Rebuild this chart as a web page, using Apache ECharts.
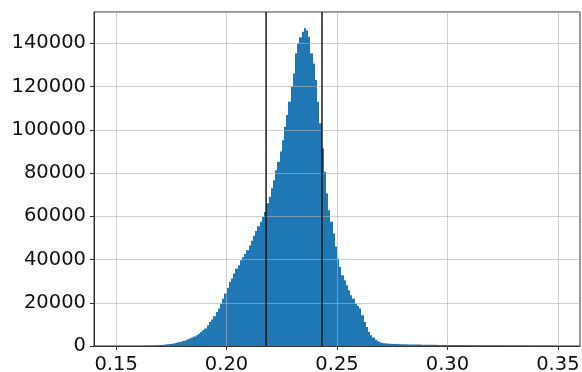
<!DOCTYPE html>
<html>
<head>
<meta charset="utf-8">
<script src="https://cdn.jsdelivr.net/npm/echarts@6/dist/echarts.min.js"></script>
<style>
  html, body { margin: 0; padding: 0; background: #fff; }
  #chart { width: 582px; height: 372px; }
</style>
</head>
<body>
<div id="chart"></div>
<script>
// histogram: 200 bins of width 0.001 starting at 0.150
var binStart = 0.150
var binWidth = 0.001
var counts = [
  0, 0, 0, 0, 0, 0, 0, 0, 0, 0,
  20, 40, 60, 90, 120, 160, 200, 250, 310, 380,
  460, 550, 650, 770, 900, 1050, 1250, 1450, 1700, 2000,
  2300, 2700, 3100, 3500, 3900, 4400, 5000, 5700, 6500, 7300,
  8100, 9600, 11100, 12300, 13800, 15700, 17300, 19600, 21900, 24300,
  27000, 29600, 31200, 33500, 35800, 37400, 39700, 41000, 42500, 44300,
  46500, 48700, 51000, 53200, 55400, 57500, 59700, 62000, 66000, 69000,
  73000, 76700, 81300, 85200, 90000, 95200, 101400, 106800, 113000, 120000,
  126000, 135400, 140000, 142800, 145400, 147000, 146000, 143000, 135400, 130700,
  123000, 113000, 103000, 91400, 80600, 70600, 62800, 57500, 52000, 46000,
  40500, 36600, 32700, 30400, 28100, 25800, 23500, 21900, 19600, 18500,
  17300, 14200, 11100, 8800, 6500, 5000, 3900, 2900, 2200, 1750,
  1450, 1250, 1150, 1050, 1000, 950, 920, 880, 850, 820,
  790, 760, 740, 720, 700, 690, 660, 650, 630, 610,
  590, 570, 560, 550, 530, 520, 510, 500, 490, 480,
  470, 460, 450, 440, 430, 420, 415, 410, 400, 395,
  390, 380, 375, 370, 360, 355, 350, 340, 335, 330,
  320, 310, 300, 295, 290, 280, 270, 265, 260, 250,
  240, 230, 220, 215, 210, 200, 195, 190, 180, 175,
  170, 160, 155, 150, 145, 140, 130, 125, 120, 110
]
var vLines = [0.2179, 0.2432]
var xTicks = [0.15, 0.20, 0.25, 0.30, 0.35]
var xMin = 0.14
var xMax = 0.36
var yMax = 154500

var bins = []
for (var i = 0; i < counts.length; i++) {
  var x0 = +(binStart + i * binWidth).toFixed(3)
  bins.push([x0, +(x0 + binWidth).toFixed(3), counts[i]])
}

var font = 'DejaVu Sans'
var gridColor = 'rgba(176,176,176,0.6)'
var chart = echarts.init(document.getElementById('chart'))
var option = {
  animation: false,
  backgroundColor: '#fff',
  grid: {
    left: 94, right: 2, top: 12, bottom: 26,
    outerBoundsMode: 'none',
    containLabel: false,
    show: true, borderColor: '#333', borderWidth: 1, backgroundColor: '#fff'
  },
  xAxis: {
    type: 'value',
    min: xMin,
    max: xMax,
    z: 3,
    axisLine: { show: true, onZero: false, lineStyle: { color: '#333', width: 1 } },
    axisTick: { show: true, length: 4, customValues: xTicks, lineStyle: { color: '#333' } },
    axisLabel: {
      customValues: xTicks,
      margin: 9,
      color: '#111',
      fontFamily: font,
      fontSize: 19.5,
      formatter: function (v) { return v.toFixed(2) }
    },
    splitLine: { show: true, lineStyle: { color: gridColor, width: 1 } }
  },
  yAxis: {
    type: 'value',
    min: 0,
    max: yMax,
    interval: 20000,
    z: 3,
    axisLine: { show: true, lineStyle: { color: '#333', width: 1 } },
    axisTick: { show: true, length: 4, lineStyle: { color: '#333' } },
    axisLabel: {
      showMaxLabel: false,
      margin: 8,
      padding: [4, 0, 0, 0],
      color: '#111',
      fontFamily: font,
      fontSize: 19.5,
      formatter: function (v) { return v % 20000 === 0 ? String(v) : '' }
    },
    splitLine: { show: true, lineStyle: { color: gridColor, width: 1 } }
  },
  series: [{
    type: 'custom',
    z: 1,
    data: bins,
    encode: { x: [0, 1], y: 2 },
    renderItem: function (params, api) {
      var p0 = api.coord([api.value(0), api.value(2)])
      var p1 = api.coord([api.value(1), 0])
      // snap edges to whole pixels so neighbouring bars leave no seams
      var left = Math.round(p0[0])
      var right = Math.round(p1[0])
      return {
        type: 'rect',
        shape: { x: left, y: p0[1], width: right - left, height: p1[1] - p0[1] },
        style: { fill: '#1f77b4' }
      }
    }
  }, {
    // vertical reference lines
    type: 'custom',
    z: 4,
    silent: true,
    data: vLines.map(function (v) { return [v] }),
    encode: { x: 0 },
    renderItem: function (params, api) {
      var v = api.value(0)
      var top = api.coord([v, yMax])
      var bottom = api.coord([v, 0])
      return {
        type: 'line',
        shape: { x1: top[0], y1: top[1], x2: bottom[0], y2: bottom[1] },
        style: { stroke: '#1a1a1a', lineWidth: 1.5 }
      }
    }
  }]
}
chart.setOption(option)
</script>
</body>
</html>
